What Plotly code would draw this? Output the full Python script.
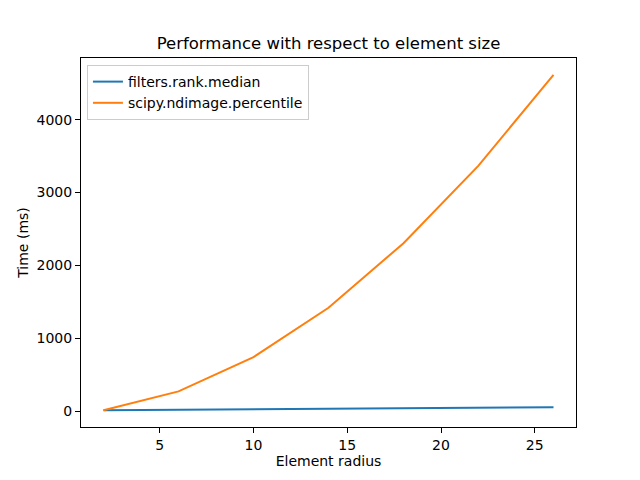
import plotly.graph_objects as go

radius = [2, 6, 10, 14, 18, 22, 26]
rank_median = [15, 22, 30, 38, 45, 50, 55]
ndimage_percentile = [15, 274, 744, 1420, 2306, 3370, 4616]

fig = go.Figure()
fig.add_trace(go.Scatter(x=radius, y=rank_median, mode='lines',
                         name='filters.rank.median',
                         line=dict(color='#1f77b4', width=2)))
fig.add_trace(go.Scatter(x=radius, y=ndimage_percentile, mode='lines',
                         name='scipy.ndimage.percentile',
                         line=dict(color='#ff7f0e', width=2)))

axis_style = dict(
    showline=True, linecolor='black', linewidth=1, mirror=True,
    showgrid=False, zeroline=False, automargin=False,
    ticks='outside', ticklen=5, tickcolor='black',
    tickfont=dict(size=14, color='black'),
)

# page body has an 8px margin, so the figure is a bit smaller than the window
W, H = 632, 472
fig.update_layout(
    width=W, height=H,
    margin=dict(l=73, r=64, t=50, b=53),
    paper_bgcolor='white', plot_bgcolor='white',
    font=dict(family='DejaVu Sans', color='black'),
    title=dict(text='Performance with respect to element size',
               x=0.5, xref='paper', xanchor='center',
               y=1 - 35 / H, yanchor='middle',
               font=dict(size=16.5, color='black')),
    xaxis=dict(range=[0.8, 27.2], tickvals=[5, 10, 15, 20, 25],
               title=dict(text='Element radius', font=dict(size=14), standoff=2),
               **axis_style),
    yaxis=dict(range=[-215, 4846], tickvals=[0, 1000, 2000, 3000, 4000],
               title=dict(text='Time (ms)', font=dict(size=14), standoff=4),
               **axis_style),
    legend=dict(x=0.012, y=0.981, xanchor='left', yanchor='top',
                bgcolor='rgba(255,255,255,0.8)', bordercolor='#cccccc',
                borderwidth=1, font=dict(size=14), tracegroupgap=0),
    showlegend=True,
)

fig.write_html("out.html")
